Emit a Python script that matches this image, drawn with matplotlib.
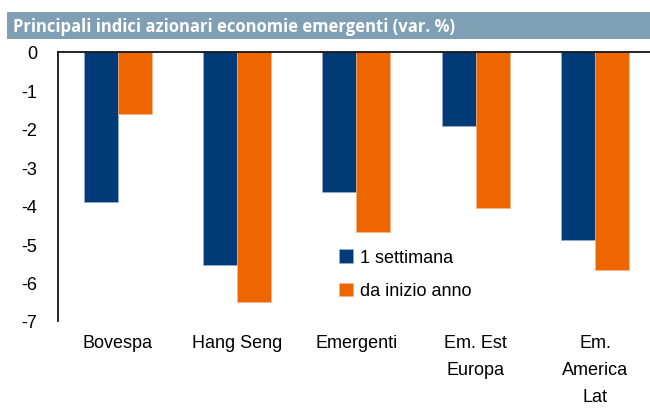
import numpy as np
import matplotlib
matplotlib.use('Agg')
import matplotlib.pyplot as plt
from matplotlib.patches import Rectangle

# DATA
categories = ['Bovespa', 'Hang Seng', 'Emergenti', 'Em. Est\nEuropa', 'Em.\nAmerica\nLat']
settimana = [-3.9, -5.55, -3.65, -1.93, -4.9]
inizio_anno = [-1.62, -6.5, -4.68, -4.06, -5.67]
series_labels = ['1 settimana', 'da inizio anno']
yticks = [0, -1, -2, -3, -4, -5, -6, -7]

BLUE = '#003B78'
ORANGE = '#EE6600'
BAR_GRAY = '#7F9FB5'

plt.rcParams['font.family'] = ['Liberation Sans', 'DejaVu Sans']

fig = plt.figure(figsize=(6.5, 4.1), dpi=100)
ax = fig.add_axes([58 / 650, 1 - 322 / 410, 1 - 58 / 650, (322 - 53) / 410])

x = np.arange(len(categories))
w = 0.285
ax.bar(x - w / 2, settimana, w, color=BLUE, label=series_labels[0],
       edgecolor='#9DB3CF', linewidth=0.4)
ax.bar(x + w / 2, inizio_anno, w, color=ORANGE, label=series_labels[1],
       edgecolor='#F6B58A', linewidth=0.4)

ax.set_xlim(-0.5, 4.46)
ax.set_ylim(-7, 0)
ax.set_yticks(yticks)
ax.set_yticklabels([str(v) for v in yticks], fontsize=13)
ax.set_xticks(x)
ax.set_xticklabels(categories, fontsize=13, linespacing=1.8, va='top')
ax.tick_params(axis='y', length=0, pad=15)
ax.tick_params(axis='x', length=0, pad=9)

for s in ['right', 'bottom']:
    ax.spines[s].set_visible(False)
ax.spines['left'].set_linewidth(1.2)
ax.spines['top'].set_linewidth(1.2)

ax.legend(loc='upper left', bbox_to_anchor=((332 - 58) / 592, 1 - (243 - 53) / 269),
          frameon=False, fontsize=13, handlelength=0.75, handleheight=0.75,
          handletextpad=0.4, labelspacing=0.9, borderaxespad=0)

# title bar
fig.patches.append(Rectangle((7 / 650, 1 - 40 / 410), 1 - 7 / 650, 27.5 / 410,
                             transform=fig.transFigure, facecolor=BAR_GRAY,
                             edgecolor='none', zorder=0))
fig.text(13 / 650, 1 - 27 / 410, 'Principali indici azionari economie emergenti (var. %)',
         color='white', fontsize=12, fontweight='bold', family='Open Sans',
         va='center', ha='left')

fig.savefig('out.png', dpi=100)
